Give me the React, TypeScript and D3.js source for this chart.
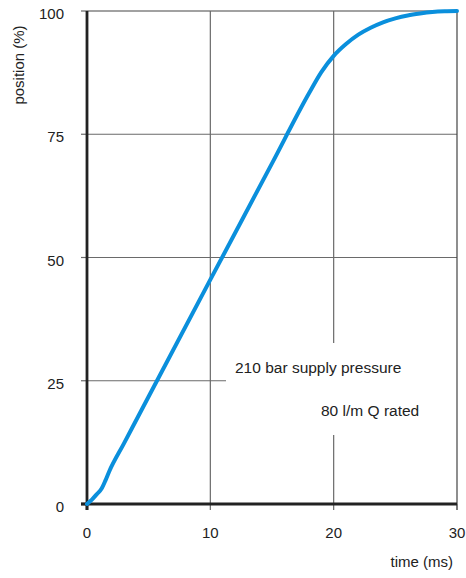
import React from "react";
import * as d3 from "d3";

const timeMs = [0, 0.4, 0.8, 1.2, 1.5, 1.8, 3, 5, 10, 15, 18, 19, 20, 21, 22, 23, 24, 25, 26, 27, 28, 29, 30];
const positionPct = [0, 0.9, 2.0, 3.2, 4.8, 6.6, 12.3, 21.8, 45.5, 69.1, 83.3, 87.6, 90.9, 93.3, 95.2, 96.6, 97.7, 98.5, 99.1, 99.5, 99.8, 99.95, 100];
const xTicks = [0, 10, 20, 30];
const yTicks = [0, 25, 50, 75, 100];
const note1 = "210 bar supply pressure";
const note2 = "80 l/m Q rated";

const W = 466;
const H = 578;
const FONT = "'Liberation Sans', Arial, Helvetica, sans-serif";

export default function App() {
  const x = d3.scaleLinear().domain([0, 30]).range([87, 457]);
  const y = d3.scaleLinear().domain([0, 100]).range([504, 11]);
  const pts: [number, number][] = timeMs.map((t, i) => [t, positionPct[i]]);
  const line = d3
    .line<[number, number]>()
    .x((d) => x(d[0]))
    .y((d) => y(d[1]))
    .curve(d3.curveMonotoneX);

  const grid = "#6a6a6a";
  const text = "#222";

  return (
    <svg
      width={W}
      height={H}
      style={{ position: "absolute", left: 0, top: 0, background: "#fff" }}
      fontFamily={FONT}
    >
      {/* horizontal grid lines */}
      <line x1={x(0)} x2={x(30)} y1={y(100)} y2={y(100)} stroke="#444" strokeWidth={1.2} />
      <line x1={x(0)} x2={x(30)} y1={y(75)} y2={y(75)} stroke={grid} strokeWidth={1.2} />
      <line x1={x(0)} x2={x(30)} y1={y(50)} y2={y(50)} stroke={grid} strokeWidth={1.2} />
      <line x1={x(0)} x2={226} y1={y(25)} y2={y(25)} stroke={grid} strokeWidth={1.2} />
      {/* vertical grid lines */}
      <line x1={x(10)} x2={x(10)} y1={y(100)} y2={y(0)} stroke={grid} strokeWidth={1.2} />
      <line x1={x(20)} x2={x(20)} y1={y(100)} y2={343} stroke={grid} strokeWidth={1.2} />
      <line x1={x(20)} x2={x(20)} y1={435} y2={y(0)} stroke={grid} strokeWidth={1.2} />
      <line x1={x(30)} x2={x(30)} y1={y(100)} y2={y(0) + 6} stroke="#444" strokeWidth={1.2} />

      {/* y ticks */}
      {yTicks.map((v) => (
        <g key={"y" + v}>
          <line x1={x(0) - 6} x2={x(0)} y1={y(v)} y2={y(v)} stroke={v === 0 ? "#222" : grid} strokeWidth={v === 0 ? 2.5 : 1.2} />
          <text x={64} y={y(v)} dy={8} textAnchor="end" fontSize={15} fill={text}>
            {v}
          </text>
        </g>
      ))}
      {/* x ticks */}
      {xTicks.map((v) => (
        <g key={"x" + v}>
          <line x1={x(v)} x2={x(v)} y1={y(0)} y2={y(0) + 6} stroke={v === 0 ? "#222" : grid} strokeWidth={v === 0 ? 2.5 : 1.2} />
          <text x={x(v)} y={538} textAnchor="middle" fontSize={15} fill={text}>
            {v}
          </text>
        </g>
      ))}

      {/* main axes */}
      <line x1={x(0)} x2={x(0)} y1={y(100)} y2={y(0) + 6} stroke="#222" strokeWidth={2.8} />
      <line x1={x(0) - 6} x2={x(30)} y1={y(0)} y2={y(0)} stroke="#222" strokeWidth={2.8} />

      {/* curve */}
      <path d={line(pts) || ""} fill="none" stroke="#0a8fdc" strokeWidth={4} strokeLinecap="round" strokeLinejoin="round" />

      {/* annotations */}
      <text x={235} y={373} fontSize={15.5} fill={text}>
        {note1}
      </text>
      <text x={321} y={416} fontSize={15.5} fill={text}>
        {note2}
      </text>

      {/* axis titles */}
      <text x={453} y={567} textAnchor="end" fontSize={15} fill={text}>
        time (ms)
      </text>
      <text transform="translate(24,65) rotate(-90)" textAnchor="middle" fontSize={15} fill={text}>
        position (%)
      </text>
    </svg>
  );
}
